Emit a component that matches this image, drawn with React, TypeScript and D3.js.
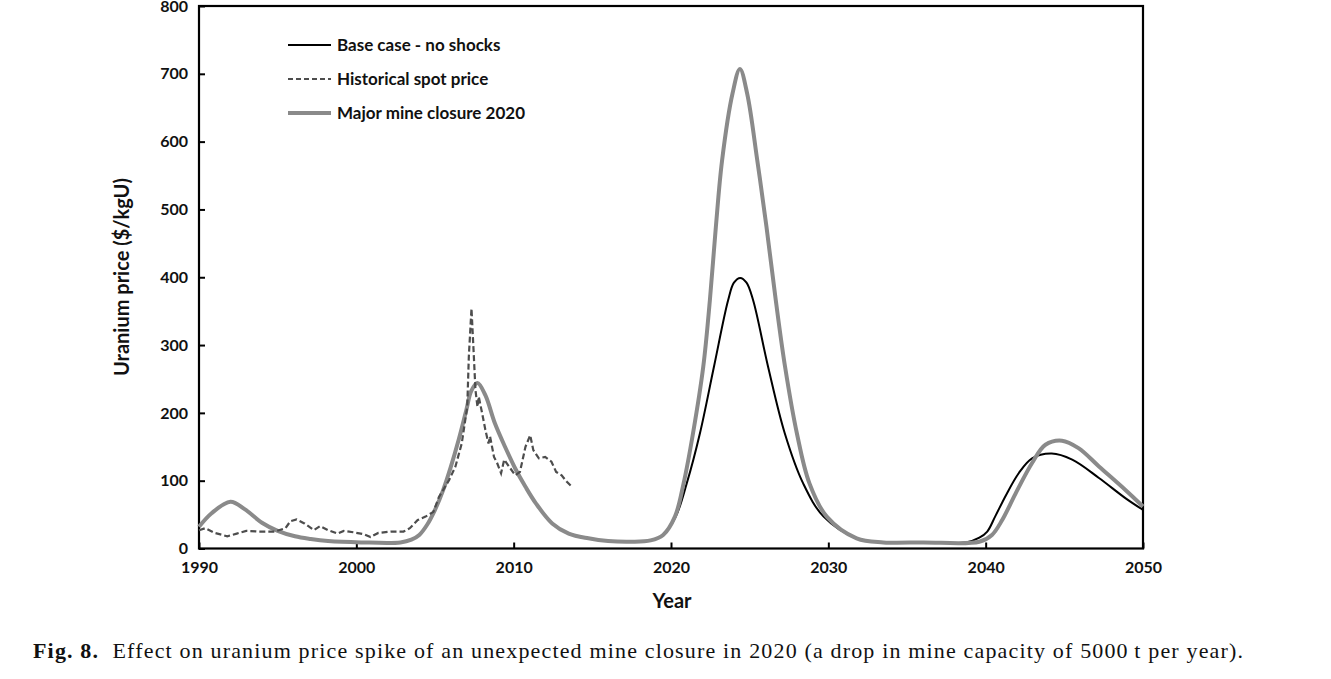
import { useEffect, useRef } from 'react';
import * as d3 from 'd3';

// values ($/kgU)
const closureYears = [
  1990, 1990.8, 1992, 1992.9, 1994, 1995, 1996.1, 1997.1, 1998.2, 2000.3, 2002.8, 2003.5,
  2004, 2004.5, 2005, 2005.5, 2006, 2006.5, 2007, 2007.3, 2007.7, 2008.2, 2008.8, 2009.45,
  2010.1, 2010.75, 2011.4, 2012.45, 2013.5, 2014.75, 2016, 2017.5, 2018.7, 2019.5, 2020.25,
  2020.8, 2021.4, 2022.05, 2022.47, 2022.85, 2023.25, 2023.91, 2024.38, 2024.84, 2025.48,
  2026.07, 2026.66, 2027.25, 2028, 2028.8, 2029.9, 2031.8, 2033.5, 2036, 2039.6, 2040.4,
  2041.05, 2041.9, 2042.95, 2043.8, 2044.85, 2045.9, 2047.2, 2048.9, 2050,
];
const closureValues = [
  32, 52, 69, 58, 38, 26, 18, 14, 11, 9, 9, 13,
  20, 35, 57, 85, 120, 160, 205, 232, 244, 226, 185, 150,
  118, 91, 67, 37, 22, 15, 11, 10, 12, 20, 47,
  96, 170, 268, 366, 474, 573, 671, 707, 671, 573,
  474, 366, 268, 170, 96, 47, 15, 9, 9, 10, 20,
  42, 81, 126, 153, 159, 148, 121, 86, 62,
];

// base case follows the closure run until 2019.5
const baseYears = [
  2019.5, 2020.3, 2021, 2021.84, 2022.73, 2023.63, 2024, 2024.4, 2024.8, 2025.22, 2026.17,
  2027.23, 2028.4, 2029.7, 2031.8, 2033.5, 2036, 2038.75, 2039.6, 2040.1, 2040.6, 2041.3,
  2042.1, 2042.95, 2044.2, 2045.5, 2047.2, 2048.9, 2050,
];
const baseValues = [
  20, 47, 96, 170, 268, 366, 392, 399, 392, 366, 268,
  170, 96, 47, 15, 9, 9, 9, 16, 25, 47, 79,
  111, 133, 140, 131, 104, 74, 57,
];

const spotYears = [
  1990, 1990.4, 1991, 1991.8, 1992.4, 1993, 1993.8, 1994.8, 1995.5, 1995.8, 1996.2, 1996.7,
  1997.3, 1997.7, 1998.2, 1998.8, 1999.2, 1999.8, 2000.5, 2000.9, 2001.4, 2002.2, 2003,
  2003.4, 2003.9, 2004.4, 2004.9, 2005.25, 2005.9, 2006.3, 2006.7, 2007.05, 2007.15, 2007.32,
  2007.47, 2007.57, 2007.7, 2007.78, 2008, 2008.2, 2008.4, 2008.5, 2008.75, 2008.95, 2009.2,
  2009.4, 2009.7, 2010.1, 2010.4, 2010.75, 2011.05, 2011.25, 2011.6, 2012, 2012.4, 2012.7,
  2013.05, 2013.35, 2013.7,
];
const spotValues = [
  27, 30, 23, 18, 22, 26, 25, 25, 30, 40, 43, 37,
  27, 33, 27, 22, 26, 24, 21, 17, 23, 25, 25,
  30, 42, 47, 54, 76, 101, 121, 155, 209, 283, 354,
  283, 234, 209, 224, 199, 175, 155, 165, 135, 126, 111,
  131, 121, 108, 113, 150, 167, 145, 133, 135, 128, 113,
  108, 99, 91,
];

const xTicks = [1990, 2000, 2010, 2020, 2030, 2040, 2050];
const yTicks = [0, 100, 200, 300, 400, 500, 600, 700, 800];
const legendLabels = ['Base case - no shocks', 'Historical spot price', 'Major mine closure 2020'];

const FONT = 'Lato, "Open Sans", sans-serif';

const App = () => {
  const svgRef = useRef<SVGSVGElement>(null);

  useEffect(() => {
    if (!svgRef.current) return;
    const root = d3.select(svgRef.current);
    root.selectAll('*').remove();

    const margin = { top: 6, left: 199 };
    const width = 1143 - 199;
    const height = 548.5 - 6;

    const svg = root.append('g').attr('transform', `translate(${margin.left},${margin.top})`);

    const x = d3.scaleLinear().domain([1990, 2050]).range([0, width]);
    const y = d3.scaleLinear().domain([0, 800]).range([height, 0]);

    const toPoints = (years: number[], values: number[]) =>
      years.map((yr, i) => [yr, values[i]] as [number, number]);

    const closure = toPoints(closureYears, closureValues);
    const base = closure.filter((d) => d[0] < 2019.5).concat(toPoints(baseYears, baseValues));
    const spot = toPoints(spotYears, spotValues);

    const smooth = d3
      .line<[number, number]>()
      .x((d) => x(d[0]))
      .y((d) => y(d[1]))
      .curve(d3.curveCatmullRom.alpha(0.5));
    const jagged = d3
      .line<[number, number]>()
      .x((d) => x(d[0]))
      .y((d) => y(d[1]));

    // axes with inward ticks
    svg
      .append('g')
      .call(d3.axisLeft(y).tickValues(yTicks).tickSizeInner(-6).tickSizeOuter(0).tickPadding(11))
      .call((g) => g.select('.domain').remove())
      .call((g) => g.selectAll('.tick line').attr('stroke', '#000').attr('stroke-width', 2))
      .call((g) =>
        g
          .selectAll('.tick text')
          .attr('font-family', FONT)
          .attr('font-weight', 'bold')
          .attr('font-size', 16)
          .attr('fill', '#111')
      );

    svg
      .append('g')
      .attr('transform', `translate(0,${height})`)
      .call(
        d3
          .axisBottom(x)
          .tickValues(xTicks)
          .tickFormat(d3.format('d'))
          .tickSizeInner(-6)
          .tickSizeOuter(0)
          .tickPadding(13)
      )
      .call((g) => g.select('.domain').remove())
      .call((g) => g.selectAll('.tick line').attr('stroke', '#000').attr('stroke-width', 2))
      .call((g) =>
        g
          .selectAll('.tick text')
          .attr('font-family', FONT)
          .attr('font-weight', 'bold')
          .attr('font-size', 16)
          .attr('fill', '#111')
      );

    // frame
    svg
      .append('rect')
      .attr('width', width)
      .attr('height', height)
      .attr('fill', 'none')
      .attr('stroke', '#000')
      .attr('stroke-width', 2.2);

    // series
    svg
      .append('path')
      .datum(base)
      .attr('d', smooth)
      .attr('fill', 'none')
      .attr('stroke', '#000')
      .attr('stroke-width', 2);

    svg
      .append('path')
      .datum(closure)
      .attr('d', smooth)
      .attr('fill', 'none')
      .attr('stroke', '#8a8a8a')
      .attr('stroke-width', 4);

    svg
      .append('path')
      .datum(spot)
      .attr('d', jagged)
      .attr('fill', 'none')
      .attr('stroke', '#4d4d4d')
      .attr('stroke-width', 2.2)
      .attr('stroke-dasharray', '6,3');

    // legend
    const legendStyles = [
      { stroke: '#000', width: 2, dash: null },
      { stroke: '#4d4d4d', width: 2, dash: '5,3' },
      { stroke: '#8a8a8a', width: 4, dash: null },
    ];
    const legend = root.append('g');
    legendLabels.forEach((label, i) => {
      const ly = 45 + i * 34;
      legend
        .append('line')
        .attr('x1', 288)
        .attr('x2', 331)
        .attr('y1', ly)
        .attr('y2', ly)
        .attr('stroke', legendStyles[i].stroke)
        .attr('stroke-width', legendStyles[i].width)
        .attr('stroke-dasharray', legendStyles[i].dash);
      legend
        .append('text')
        .attr('x', 337)
        .attr('y', ly)
        .attr('dy', '0.35em')
        .attr('font-family', FONT)
        .attr('font-weight', 'bold')
        .attr('font-size', 17)
        .attr('fill', '#111')
        .text(label);
    });

    // axis titles
    root
      .append('text')
      .attr('transform', 'translate(122,277) rotate(-90)')
      .attr('text-anchor', 'middle')
      .attr('dy', '0.35em')
      .attr('font-family', FONT)
      .attr('font-weight', 'bold')
      .attr('font-size', 20)
      .attr('fill', '#111')
      .text('Uranium price ($/kgU)');

    root
      .append('text')
      .attr('x', 672)
      .attr('y', 601)
      .attr('text-anchor', 'middle')
      .attr('dy', '0.35em')
      .attr('font-family', FONT)
      .attr('font-weight', 'bold')
      .attr('font-size', 20)
      .attr('fill', '#111')
      .text('Year');

    // caption
    const caption = root
      .append('text')
      .attr('x', 33)
      .attr('y', 658)
      .attr('font-family', '"Liberation Serif", "DejaVu Serif", serif')
      .attr('font-size', 22)
      .attr('fill', '#111')
      .attr('textLength', 1210)
      .attr('lengthAdjust', 'spacing');
    caption.append('tspan').attr('font-weight', 'bold').text('Fig. 8.');
    caption
      .append('tspan')
      .text(
        '\u00a0 Effect on uranium price spike of an unexpected mine closure in 2020 (a drop in mine capacity of 5000\u2009t per year).'
      );
  }, []);

  return (
    <svg
      ref={svgRef}
      width={1331}
      height={679}
      style={{ position: 'absolute', left: 0, top: 0, background: '#fff' }}
    />
  );
};

export default App;
